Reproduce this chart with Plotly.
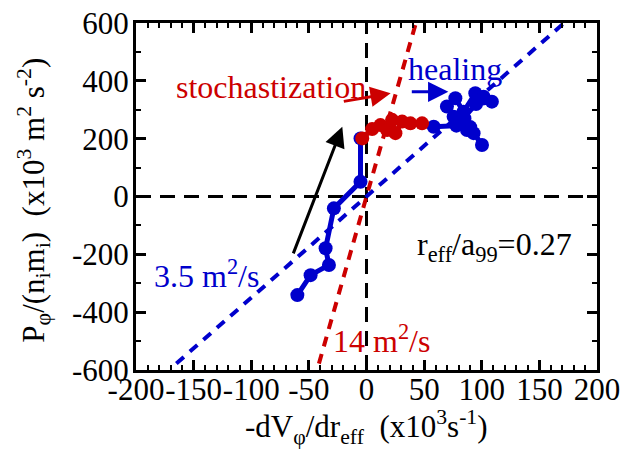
import plotly.graph_objects as go

# --- data ---
blue_in_x = [-60, -48.5, -32.6, -35.5, -28.3, -5.2, -5.2]
blue_in_y = [-341, -272, -237, -179, -41, 51, 201]

red_x = [-3.7, 4.9, 12.1, 17.9, 22.2, 25.1, 30.9, 38.1, 48.2, 58.3]
red_y = [201, 233, 247, 230, 265, 219, 259, 253, 253, 241]

blue_out_x = [58.3, 78, 75.6, 69.8, 77.1, 84.2, 94.4, 101.6, 108.8, 95, 81.4, 87.2, 92.9, 100.2, 90, 85]
blue_out_y = [241, 245, 276, 311, 340, 293, 357, 345, 328, 320, 259, 230, 219, 178, 240, 270]

fit_blue_x = [-165, 171.4]
fit_blue_slope = 3.5
fit_red_y = [-578, 600]
fit_red_slope = 14.0

x_ticks = [-200, -150, -100, -50, 0, 50, 100, 150, 200]
y_ticks = [-600, -400, -200, 0, 200, 400, 600]

BLUE = "#0000CC"
RED = "#CC0000"
FONT = "Liberation Serif"
FS = 31
FSA = 32

fig = go.Figure()

# zero lines
fig.add_trace(go.Scatter(x=[0, 0], y=[-600, 600], mode="lines",
                         line=dict(color="black", width=3, dash="15px,9px"), hoverinfo="skip"))
fig.add_trace(go.Scatter(x=[-200, 200], y=[0, 0], mode="lines",
                         line=dict(color="black", width=3, dash="15px,9px"), hoverinfo="skip"))

# fit lines
fig.add_trace(go.Scatter(x=fit_blue_x, y=[fit_blue_slope * v for v in fit_blue_x], mode="lines",
                         line=dict(color=BLUE, width=4, dash="10px,8px")))
fig.add_trace(go.Scatter(x=[v / fit_red_slope for v in fit_red_y], y=fit_red_y, mode="lines",
                         line=dict(color=RED, width=4, dash="10px,8px")))

# data
fig.add_trace(go.Scatter(x=blue_in_x, y=blue_in_y, mode="lines+markers",
                         line=dict(color=BLUE, width=5), marker=dict(color=BLUE, size=14)))
fig.add_trace(go.Scatter(x=blue_out_x, y=blue_out_y, mode="lines+markers",
                         line=dict(color=BLUE, width=5), marker=dict(color=BLUE, size=14)))
fig.add_trace(go.Scatter(x=red_x[:-1], y=red_y[:-1], mode="lines+markers",
                         line=dict(color=RED, width=5), marker=dict(color=RED, size=14)))

axis_common = dict(
    showgrid=False, zeroline=False, showline=True, linecolor="black", linewidth=3,
    mirror="ticks", ticks="inside", tickcolor="black", tickwidth=2.5, ticklen=10,
    tickfont=dict(family=FONT, size=FS, color="black"), automargin=False, tickangle=0,
)

fig.update_xaxes(range=[-200, 200], tickvals=x_ticks, ticktext=[str(v) for v in x_ticks],
                 ticklabelstandoff=-10,
                 minor=dict(dtick=10, tick0=0, ticks="inside", ticklen=5, tickwidth=2, tickcolor="black"),
                 **axis_common)
fig.update_yaxes(range=[-600, 600], tickvals=y_ticks, ticktext=[str(v) for v in y_ticks],
                 ticklabelstandoff=-2,
                 minor=dict(dtick=100, tick0=0, ticks="inside", ticklen=5, tickwidth=2, tickcolor="black"),
                 **axis_common)

ann = []
# axis titles
ann.append(dict(xref="paper", yref="paper", x=0.5, y=-0.164, xanchor="center", yanchor="middle",
                text="-dV<sub>φ</sub>/dr<sub>eff</sub>  (x10<sup>3</sup>s<sup>-1</sup>)", showarrow=False,
                font=dict(family=FONT, size=FS, color="black")))
ann.append(dict(xref="paper", yref="paper", x=-0.222, y=0.49, xanchor="center", yanchor="middle",
                textangle=-90,
                text="P<sub>φ</sub>/(n<sub>i</sub>m<sub>i</sub>)  (x10<sup>3</sup> m<sup>2</sup> s<sup>-2</sup>)",
                showarrow=False, font=dict(family=FONT, size=FS, color="black")))
# labels
ann.append(dict(x=-83, y=380, xref="x", yref="y", text="stochastization", showarrow=False,
                font=dict(family=FONT, size=FSA, color=RED)))
ann.append(dict(x=77, y=440, xref="x", yref="y", text="healing", showarrow=False,
                font=dict(family=FONT, size=FSA, color=BLUE)))
ann.append(dict(x=-139, y=-268, xref="x", yref="y", text="3.5 m<sup>2</sup>/s", showarrow=False,
                font=dict(family=FONT, size=FSA, color=BLUE)))
ann.append(dict(x=13, y=-492, xref="x", yref="y", text="14 m<sup>2</sup>/s", showarrow=False,
                font=dict(family=FONT, size=FSA, color=RED)))
ann.append(dict(x=111, y=-172, xref="x", yref="y", text="r<sub>eff</sub>/a<sub>99</sub>=0.27", showarrow=False,
                font=dict(family=FONT, size=FSA, color="black")))
# arrows
ann.append(dict(x=-21, y=241, ax=-64, ay=-202, xref="x", yref="y", axref="x", ayref="y", text="",
                showarrow=True, arrowhead=2, arrowsize=1.35, arrowwidth=3, arrowcolor="black"))
ann.append(dict(x=21, y=357, ax=-21, ay=328, xref="x", yref="y", axref="x", ayref="y", text="",
                showarrow=True, arrowhead=2, arrowsize=1.35, arrowwidth=3, arrowcolor=RED))
ann.append(dict(x=71, y=362, ax=38, ay=362, xref="x", yref="y", axref="x", ayref="y", text="",
                showarrow=True, arrowhead=2, arrowsize=1.35, arrowwidth=3, arrowcolor=BLUE))

fig.update_layout(
    width=623, height=457,
    margin=dict(l=136, r=26, t=23, b=87),
    paper_bgcolor="white", plot_bgcolor="white",
    showlegend=False,
    annotations=ann,
    font=dict(family=FONT, size=FS, color="black"),
)

fig.write_html("out.html", config={"displayModeBar": False},
               post_script="document.body.style.margin='0px';document.body.style.overflow='hidden';")
